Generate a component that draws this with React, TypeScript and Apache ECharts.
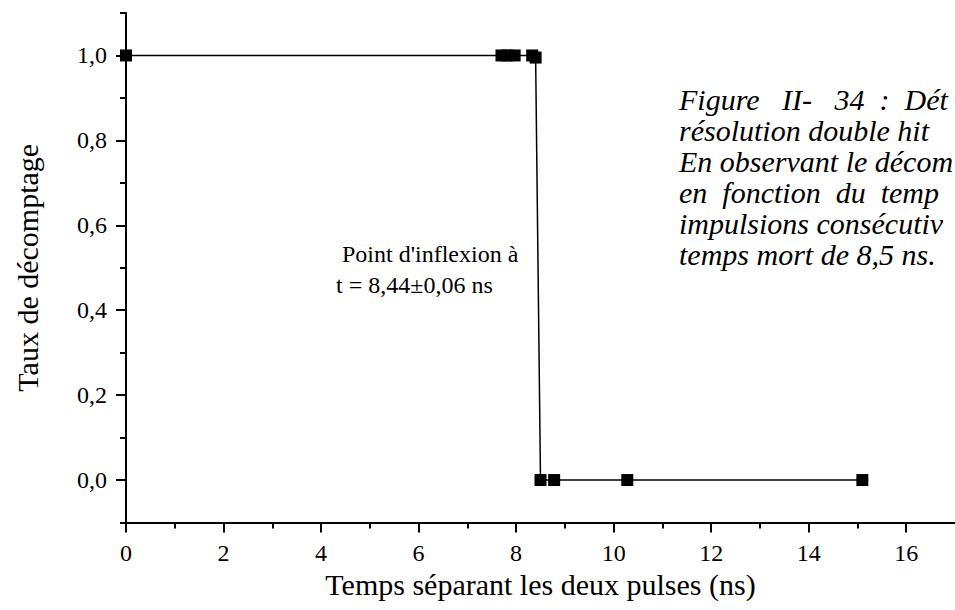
import React, { useEffect, useRef } from "react";
import * as echarts from "echarts";

// ---- data ----
const timeNs = [0, 7.7, 7.82, 7.97, 8.33, 8.4, 8.5, 8.78, 10.28, 15.1];
const countRate = [1, 1, 1, 1, 1, 0.995, 0, 0, 0, 0];

const xMajorTicks = [0, 2, 4, 6, 8, 10, 12, 14, 16];
const xMinorTicks = [1, 3, 5, 7, 9, 11, 13, 15];
const yMajorTicks = [0, 0.2, 0.4, 0.6, 0.8, 1.0];
const yMinorTicks = [-0.1, 0.1, 0.3, 0.5, 0.7, 0.9, 1.1];

const xAxisTitle = "Temps séparant les deux pulses (ns)";
const yAxisTitle = "Taux de décomptage";
const annotationLines = ["Point d'inflexion à", "t = 8,44±0,06 ns"];
const NB = "\u00A0";
const G3 = NB + NB + NB;
const G2 = NB + NB;
const captionLines = [
  `Figure${G3}II-${G3}34${G2}:${G2}Dét`,
  "résolution double hit",
  "En observant le décom",
  `en${G2}fonction${G2}du${G2}temp`,
  "impulsions consécutiv",
  "temps mort de 8,5 ns.",
];

const FONT = '"Liberation Serif", "Times New Roman", serif';

export default function App() {
  const ref = useRef<HTMLDivElement>(null);

  useEffect(() => {
    if (!ref.current) return;
    const chart = echarts.init(ref.current, undefined, { renderer: "svg" });
    const black = "#000";
    const axisLineStyle = { color: black, width: 2 };
    const labelStyle = { fontSize: 24, color: black, fontFamily: FONT };
    const nameStyle = { fontSize: 30, color: black, fontFamily: FONT };

    const option: any = {
      animation: false,
      backgroundColor: "#fff",
      grid: { left: 126, top: 13, right: -7, bottom: 87.5, containLabel: false },
      xAxis: [
        {
          type: "value",
          min: 0,
          max: 17,
          position: "bottom",
          axisLine: { show: true, onZero: false, lineStyle: axisLineStyle },
          axisTick: { show: true, customValues: xMajorTicks, length: 10, lineStyle: axisLineStyle },
          axisLabel: { customValues: xMajorTicks, margin: 18, ...labelStyle },
          splitLine: { show: false },
          name: xAxisTitle,
          nameLocation: "middle",
          nameGap: 47,
          nameTextStyle: nameStyle,
        },
        {
          type: "value",
          min: 0,
          max: 17,
          position: "bottom",
          axisLine: { show: false, onZero: false },
          axisTick: { show: true, customValues: xMinorTicks, length: 6, lineStyle: axisLineStyle },
          axisLabel: { show: false },
          splitLine: { show: false },
        },
      ],
      yAxis: [
        {
          type: "value",
          min: -0.1,
          max: 1.1,
          position: "left",
          axisLine: { show: true, onZero: false, lineStyle: axisLineStyle },
          axisTick: { show: true, customValues: yMajorTicks, length: 10, lineStyle: axisLineStyle },
          axisLabel: {
            customValues: yMajorTicks,
            margin: 19,
            formatter: (v: number) => v.toFixed(1).replace(".", ","),
            ...labelStyle,
          },
          splitLine: { show: false },
          name: yAxisTitle,
          nameLocation: "middle",
          nameGap: 84,
          nameRotate: 90,
          nameTextStyle: nameStyle,
        },
        {
          type: "value",
          min: -0.1,
          max: 1.1,
          position: "left",
          axisLine: { show: false, onZero: false },
          axisTick: { show: true, customValues: yMinorTicks, length: 6, lineStyle: axisLineStyle },
          axisLabel: { show: false },
          splitLine: { show: false },
        },
      ],
      series: [
        {
          type: "line",
          xAxisIndex: 0,
          yAxisIndex: 0,
          data: timeNs.map((t, i) => [t, countRate[i]]),
          symbol: "rect",
          symbolSize: 12,
          showAllSymbol: true,
          itemStyle: { color: black },
          lineStyle: { color: black, width: 1.5 },
          z: 3,
        },
      ],
      graphic: [
        ...annotationLines.map((txt, i) => ({
          type: "text",
          left: i === 0 ? 342 : 336,
          top: 242 + i * 31,
          style: { text: txt, fontFamily: FONT, fontSize: 24, fill: black },
        })),
        ...captionLines.map((txt, i) => ({
          type: "text",
          left: 679,
          top: 84 + i * 31,
          style: { text: txt, fontFamily: FONT, fontSize: 30, fontStyle: "italic", fill: black },
        })),
      ],
    };

    chart.setOption(option);
    return () => chart.dispose();
  }, []);

  return (
    <div
      ref={ref}
      style={{ position: "absolute", left: 0, top: 0, width: 955, height: 610, background: "#fff" }}
    />
  );
}
